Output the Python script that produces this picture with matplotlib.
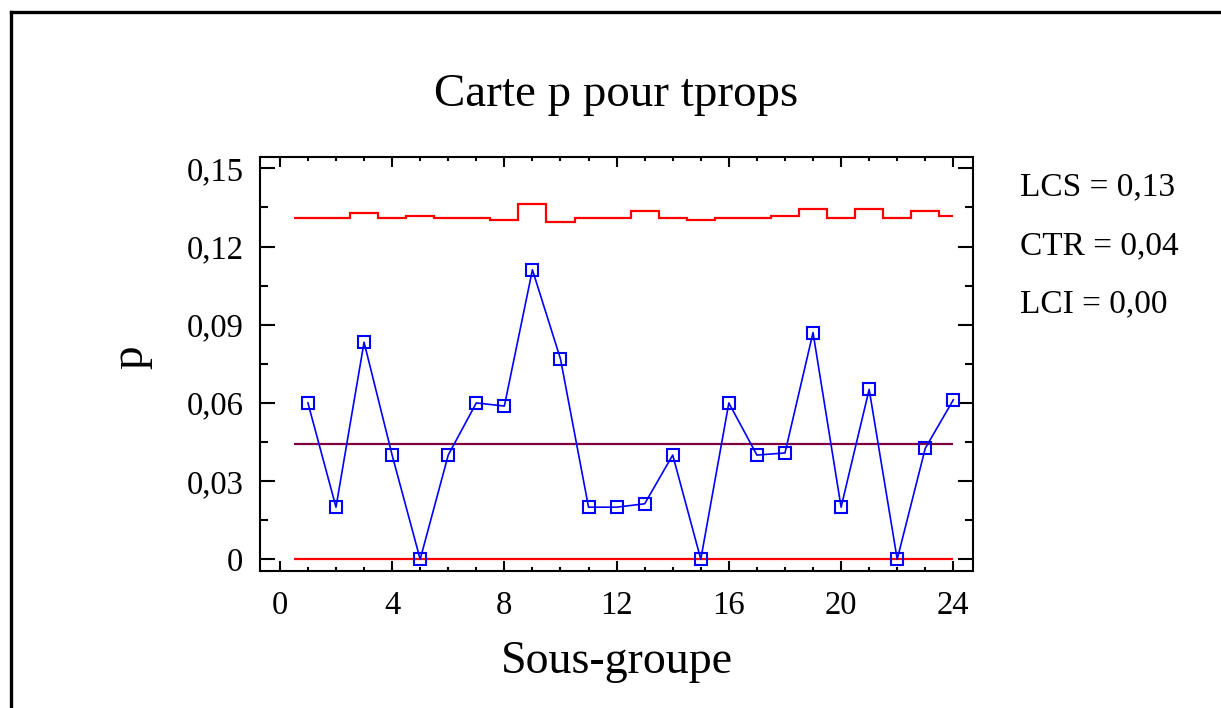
import numpy as np
import matplotlib
matplotlib.use("Agg")
import matplotlib.pyplot as plt
from matplotlib.lines import Line2D
from matplotlib.ticker import MultipleLocator, FuncFormatter

plt.rcParams['font.family'] = ['Liberation Serif', 'DejaVu Serif']

sous_groupe = np.arange(1, 25)
p = [0.060, 0.020, 0.0833, 0.040, 0.0, 0.040, 0.060, 0.0588, 0.1111, 0.0769,
     0.020, 0.020, 0.0213, 0.040, 0.0, 0.060, 0.040, 0.0408, 0.0870, 0.020,
     0.0652, 0.0, 0.0426, 0.0612]
lcs = [0.1311, 0.1311, 0.1327, 0.1311, 0.1319, 0.1311, 0.1311, 0.1303, 0.1363, 0.1296,
       0.1311, 0.1311, 0.1336, 0.1311, 0.1303, 0.1311, 0.1311, 0.1319, 0.1345, 0.1311,
       0.1345, 0.1311, 0.1336, 0.1319]
ctr = 0.0441
lci = 0.0
labels_droite = ["LCS = 0,13", "CTR = 0,04", "LCI = 0,00"]

fig = plt.figure(figsize=(12.21, 7.08), dpi=100)
ax = fig.add_axes([0.2129, 0.1931, 0.5842, 0.5856])

bords = np.append(sous_groupe - 0.5, sous_groupe[-1])
ax.stairs(lcs, bords, color='#ff0000', lw=1.6, baseline=None)
ax.hlines(ctr, bords[0], bords[-1], color='#800040', lw=1.6)
ax.hlines(lci, bords[0], bords[-1], color='#ff0000', lw=1.6)
ax.plot(sous_groupe, p, color='#0000ff', lw=1.2, marker='s', ms=8.5,
        mfc='none', mec='#0000ff', mew=1.5, zorder=3)

ax.set_xlim(-0.71, 24.71)
ax.set_ylim(-0.0046, 0.1545)
ax.xaxis.set_major_locator(MultipleLocator(4))
ax.xaxis.set_minor_locator(MultipleLocator(1))
ax.yaxis.set_major_locator(MultipleLocator(0.03))
ax.yaxis.set_minor_locator(MultipleLocator(0.015))
ax.yaxis.set_major_formatter(FuncFormatter(
    lambda v, pos: '0' if abs(v) < 1e-9 else f'{v:.2f}'.replace('.', ',')))

for s in ax.spines.values():
    s.set_linewidth(1.5)
ax.tick_params(axis='both', which='both', direction='in', width=1.5,
               labelsize=23.5, top=True, right=True)
ax.tick_params(axis='y', which='major', length=10.5, pad=12)
ax.tick_params(axis='y', which='minor', length=5.5)
ax.tick_params(axis='x', which='major', length=7, pad=14)
ax.tick_params(axis='x', which='minor', length=3.2)

fig.text(0.505, 0.866, "Carte p pour tprops", fontsize=33.8, ha='center', va='center')
fig.text(0.505, 0.066, "Sous-groupe", fontsize=33, ha='center', va='center')
fig.text(0.107, 0.495, "p", fontsize=34, rotation=90, ha='center', va='center')

for i, t in enumerate(labels_droite):
    fig.text(0.835, 0.736 - i * 0.083, t, fontsize=24, ha='left', va='center')

# cadre autour de la figure
fig.add_artist(Line2D([0.009, 0.009], [0.0, 0.983], color='black', lw=2.4,
                      transform=fig.transFigure))
fig.add_artist(Line2D([0.009, 1.0], [0.983, 0.983], color='black', lw=2.4,
                      transform=fig.transFigure))

fig.savefig("out.png", dpi=100)
